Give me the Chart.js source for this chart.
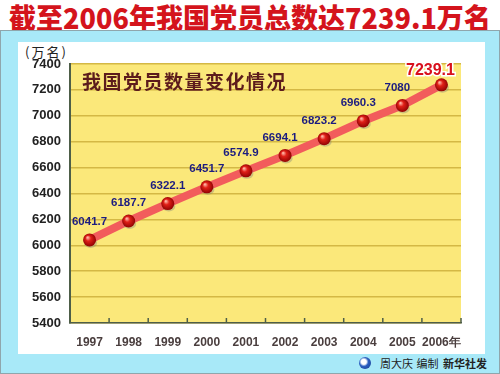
<!DOCTYPE html>
<html>
<head>
<meta charset="utf-8">
<script src="https://cdn.jsdelivr.net/npm/chart.js@4/dist/chart.umd.min.js"></script>
<style>
    body { margin: 0; width: 500px; height: 374px; overflow: hidden; background: #fff; position: relative; font-family: "Noto Sans CJK SC", sans-serif; }
    #title { position: absolute; left: -50px; top: -3px; width: 600px; text-align: center; font-size: 28px; font-weight: 900; color: #d4141c; white-space: nowrap; transform: scaleX(0.965); }
    #panel { position: absolute; left: 0; top: 30px; width: 498px; height: 342px; background: #a8e9f8; border: 1px solid #8fa6ac; }
    #inner { position: absolute; left: 18px; top: 42px; width: 467px; height: 312px; background: #fff; }
    #unit { position: absolute; left: 25px; top: 42px; font-size: 13px; color: #222; letter-spacing: 2px; }
    #credit { position: absolute; left: 380px; top: 355px; font-size: 11px; color: #222; white-space: nowrap; word-spacing: 1px; }
    #credit b { margin-left: 1px; }
    #logo { position: absolute; left: 359px; top: 357px; width: 12px; height: 12px; border-radius: 50%; background: radial-gradient(circle at 40% 40%, #fff 0 25%, #2a5fc0 45%, #1a3a8a 100%); }
    #chart { position: absolute; left: 0; top: 0; }
</style>
</head>
<body>
<div id="title">截至2006年我国党员总数达7239.1万名</div>
<div id="panel"></div>
<div id="inner"></div>
<div id="unit">(万名)</div>
<div id="logo"></div>
<div id="credit">周大庆 编制 <b>新华社发</b></div>
<canvas id="chart" width="500" height="374"></canvas>
<script>
// Données
const years = ['1997', '1998', '1999', '2000', '2001', '2002', '2003', '2004', '2005', '2006年'];
const members = [6041.7, 6187.7, 6322.1, 6451.7, 6574.9, 6694.1, 6823.2, 6960.3, 7080, 7239.1];
const valueLabels = ['6041.7', '6187.7', '6322.1', '6451.7', '6574.9', '6694.1', '6823.2', '6960.3', '7080', '7239.1'];
const yMin = 5400;
const yMax = 7400;
const yStep = 200;
const chartTitle = '我国党员数量变化情况';

// Fond jaune + petits traits de l'axe X
const plotBackground = {
    id: 'plotBackground',
    beforeDraw(chart) {
        const { ctx, chartArea: a } = chart;
        ctx.save();
        ctx.fillStyle = '#fbe87a';
        ctx.fillRect(a.left, a.top, a.right - a.left, a.bottom - a.top);
        ctx.restore();
    },
    afterDraw(chart) {
        const { ctx, chartArea: a } = chart;
        const x = chart.scales.x;
        ctx.save();
        ctx.strokeStyle = '#4e5e48';
        ctx.lineWidth = 1.5;
        for (let i = 1; i < years.length; i++) {
            const px = (x.getPixelForValue(i - 1) + x.getPixelForValue(i)) / 2;
            ctx.beginPath();
            ctx.moveTo(px, a.bottom);
            ctx.lineTo(px, a.bottom - 5);
            ctx.stroke();
        }
        ctx.beginPath();
        ctx.moveTo(a.right, a.bottom);
        ctx.lineTo(a.right, a.bottom - 5);
        ctx.stroke();
        // titre du graphique
        ctx.fillStyle = '#5c1c1c';
        ctx.font = 'bold 19px "Noto Sans CJK SC"';
        ctx.textBaseline = 'middle';
        ctx.letterSpacing = '1.5px';
        ctx.fillText(chartTitle, 82, 82);
        ctx.restore();
    }
};

// Billes rouges et étiquettes de valeurs
const pointsAndLabels = {
    id: 'pointsAndLabels',
    afterDatasetsDraw(chart) {
        const { ctx } = chart;
        const meta = chart.getDatasetMeta(1);
        ctx.save();
        meta.data.forEach((pt, i) => {
            // ombre
            ctx.fillStyle = 'rgba(120,120,120,0.35)';
            ctx.beginPath();
            ctx.ellipse(pt.x + 1, pt.y + 3, 6.5, 5, 0, 0, Math.PI * 2);
            ctx.fill();
            const g = ctx.createRadialGradient(pt.x - 2, pt.y - 2.5, 0.5, pt.x, pt.y, 7);
            g.addColorStop(0, '#ffb0a0');
            g.addColorStop(0.35, '#e02018');
            g.addColorStop(1, '#8a0000');
            ctx.fillStyle = g;
            ctx.beginPath();
            ctx.arc(pt.x, pt.y, 6.5, 0, Math.PI * 2);
            ctx.fill();
        });
        ctx.textAlign = 'center';
        ctx.textBaseline = 'middle';
        meta.data.forEach((pt, i) => {
            if (i === valueLabels.length - 1) {
                ctx.font = 'bold 16px "Liberation Sans"';
                ctx.lineWidth = 3;
                ctx.strokeStyle = '#fff';
                ctx.strokeText(valueLabels[i], pt.x - 11, pt.y - 14);
                ctx.fillStyle = '#d8101c';
                ctx.fillText(valueLabels[i], pt.x - 11, pt.y - 14);
            } else {
                ctx.font = 'bold 11.5px "Liberation Sans"';
                ctx.fillStyle = '#1c1c80';
                const dx = i < 4 ? 0 : -5;
                ctx.fillText(valueLabels[i], pt.x + dx, pt.y - 18);
            }
        });
        ctx.restore();
    }
};

new Chart(document.getElementById('chart'), {
    type: 'line',
    data: {
        labels: years,
        datasets: [
            {
                data: members,
                borderColor: '#f25c5c',
                borderWidth: 8,
                pointRadius: 0,
                tension: 0
            },
            {
                data: members,
                borderColor: '#ffffff',
                borderWidth: 2,
                pointRadius: 0,
                tension: 0
            }
        ]
    },
    options: {
        responsive: false,
        animation: false,
        events: [],
        layout: { padding: { left: 0, right: 39, top: 64, bottom: 0 } },
        plugins: {
            legend: { display: false },
            tooltip: { enabled: false }
        },
        scales: {
            x: {
                offset: true,
                grid: { display: false },
                border: { color: '#4e5e48', width: 1.5 },
                ticks: {
                    color: '#4a3e3e',
                    font: { family: 'Liberation Sans', size: 12, weight: 'bold' },
                    padding: 4,
                    maxRotation: 0,
                    autoSkip: false
                },
                afterFit: s => { s.height = 51; }
            },
            y: {
                min: yMin,
                max: yMax,
                ticks: {
                    stepSize: yStep,
                    color: '#222',
                    font: { family: 'Liberation Sans', size: 13, weight: 'bold' },
                    padding: 9,
                    callback: v => String(v)
                },
                grid: { color: '#d4b845', lineWidth: 1.5, drawTicks: false },
                border: { color: '#4e5e48', width: 2 },
                afterFit: s => { s.width = 70; }
            }
        }
    },
    plugins: [plotBackground, pointsAndLabels]
});
</script>
</body>
</html>
